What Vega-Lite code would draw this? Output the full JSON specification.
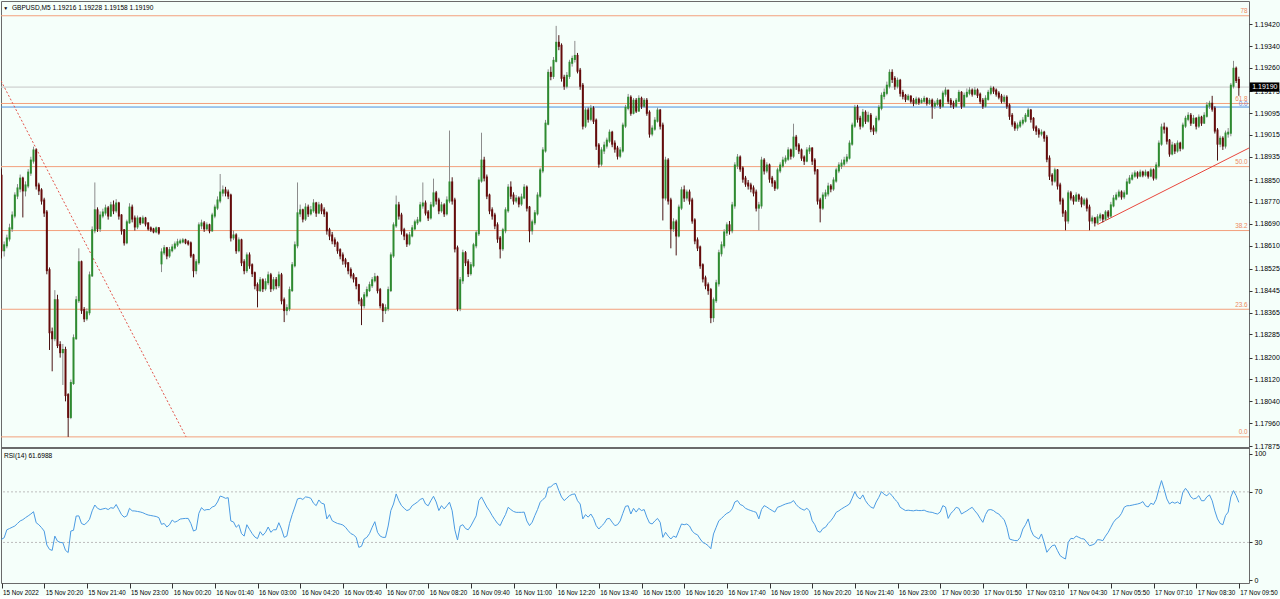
{
"$schema":"https://vega.github.io/schema/vega-lite/v6.json",
"padding":0,
"background":"#f5fffa",
"spacing":0,
"bounds":"flush",
"config":{"view":{"stroke":"#6a6a6a","fill":"#f5fffa"},"font":"Liberation Sans","axis":{"labelOverlap":false,"labelBound":false,"labelFlush":false}},
"datasets":{
"bars":[
{"i":0,"o":1.18866,"h":1.18892,"l":1.18563,"c":1.18593,"r":32.5},
{"i":1,"o":1.18593,"h":1.18625,"l":1.18570,"c":1.18611,"r":33.7},
{"i":2,"o":1.18611,"h":1.18650,"l":1.18600,"c":1.18636,"r":40},
{"i":3,"o":1.18636,"h":1.18690,"l":1.18625,"c":1.18673,"r":41},
{"i":4,"o":1.18673,"h":1.18735,"l":1.18660,"c":1.18720,"r":42},
{"i":5,"o":1.18720,"h":1.18805,"l":1.18710,"c":1.18793,"r":43},
{"i":6,"o":1.18793,"h":1.18835,"l":1.18780,"c":1.18819,"r":45},
{"i":7,"o":1.18819,"h":1.18870,"l":1.18805,"c":1.18855,"r":47},
{"i":8,"o":1.18855,"h":1.18862,"l":1.18713,"c":1.18812,"r":48},
{"i":9,"o":1.18812,"h":1.18845,"l":1.18790,"c":1.18830,"r":49.6},
{"i":10,"o":1.18830,"h":1.18890,"l":1.18820,"c":1.18877,"r":51},
{"i":11,"o":1.18877,"h":1.18935,"l":1.18865,"c":1.18921,"r":52.5},
{"i":12,"o":1.18921,"h":1.18972,"l":1.18910,"c":1.18958,"r":54.3},
{"i":13,"o":1.18958,"h":1.18965,"l":1.18815,"c":1.18830,"r":45.6},
{"i":14,"o":1.18830,"h":1.18840,"l":1.18795,"c":1.18812,"r":44},
{"i":15,"o":1.18812,"h":1.18820,"l":1.18760,"c":1.18775,"r":41.7},
{"i":16,"o":1.18775,"h":1.18785,"l":1.18715,"c":1.18731,"r":39},
{"i":17,"o":1.18731,"h":1.18740,"l":1.18505,"c":1.18520,"r":28},
{"i":18,"o":1.18520,"h":1.18530,"l":1.18228,"c":1.18293,"r":24.5},
{"i":19,"o":1.18293,"h":1.18310,"l":1.18150,"c":1.18271,"r":23.7},
{"i":20,"o":1.18271,"h":1.18447,"l":1.18260,"c":1.18410,"r":35},
{"i":21,"o":1.18410,"h":1.18430,"l":1.18235,"c":1.18246,"r":31},
{"i":22,"o":1.18246,"h":1.18260,"l":1.18200,"c":1.18220,"r":30},
{"i":23,"o":1.18220,"h":1.18250,"l":1.18100,"c":1.18228,"r":29.8},
{"i":24,"o":1.18228,"h":1.18240,"l":1.18040,"c":1.18063,"r":23.7},
{"i":25,"o":1.18063,"h":1.18070,"l":1.17910,"c":1.17983,"r":22},
{"i":26,"o":1.17983,"h":1.18120,"l":1.17975,"c":1.18107,"r":39},
{"i":27,"o":1.18107,"h":1.18285,"l":1.18100,"c":1.18271,"r":39.6},
{"i":28,"o":1.18271,"h":1.18425,"l":1.18265,"c":1.18410,"r":50.9},
{"i":29,"o":1.18410,"h":1.18600,"l":1.18400,"c":1.18549,"r":51},
{"i":30,"o":1.18549,"h":1.18555,"l":1.18360,"c":1.18374,"r":45},
{"i":31,"o":1.18374,"h":1.18385,"l":1.18330,"c":1.18344,"r":44},
{"i":32,"o":1.18344,"h":1.18380,"l":1.18335,"c":1.18366,"r":45.6},
{"i":33,"o":1.18366,"h":1.18515,"l":1.18355,"c":1.18501,"r":48.3},
{"i":34,"o":1.18501,"h":1.18680,"l":1.18495,"c":1.18666,"r":55},
{"i":35,"o":1.18666,"h":1.18841,"l":1.18655,"c":1.18739,"r":59.6},
{"i":36,"o":1.18739,"h":1.18750,"l":1.18660,"c":1.18673,"r":57},
{"i":37,"o":1.18673,"h":1.18735,"l":1.18660,"c":1.18720,"r":56},
{"i":38,"o":1.18720,"h":1.18745,"l":1.18710,"c":1.18731,"r":56.5},
{"i":39,"o":1.18731,"h":1.18760,"l":1.18720,"c":1.18746,"r":57},
{"i":40,"o":1.18746,"h":1.18755,"l":1.18705,"c":1.18720,"r":56},
{"i":41,"o":1.18720,"h":1.18770,"l":1.18715,"c":1.18757,"r":57.5},
{"i":42,"o":1.18757,"h":1.18775,"l":1.18725,"c":1.18739,"r":57},
{"i":43,"o":1.18739,"h":1.18780,"l":1.18730,"c":1.18764,"r":60},
{"i":44,"o":1.18764,"h":1.18770,"l":1.18705,"c":1.18720,"r":56},
{"i":45,"o":1.18720,"h":1.18725,"l":1.18650,"c":1.18666,"r":52},
{"i":46,"o":1.18666,"h":1.18670,"l":1.18610,"c":1.18622,"r":50},
{"i":47,"o":1.18622,"h":1.18705,"l":1.18615,"c":1.18695,"r":51},
{"i":48,"o":1.18695,"h":1.18765,"l":1.18690,"c":1.18749,"r":57},
{"i":49,"o":1.18749,"h":1.18760,"l":1.18695,"c":1.18709,"r":55},
{"i":50,"o":1.18709,"h":1.18720,"l":1.18665,"c":1.18680,"r":54.9},
{"i":51,"o":1.18680,"h":1.18720,"l":1.18670,"c":1.18709,"r":54.5},
{"i":52,"o":1.18709,"h":1.18715,"l":1.18685,"c":1.18695,"r":54.1},
{"i":53,"o":1.18695,"h":1.18720,"l":1.18690,"c":1.18709,"r":53.5},
{"i":54,"o":1.18709,"h":1.18715,"l":1.18680,"c":1.18691,"r":52.5},
{"i":55,"o":1.18691,"h":1.18695,"l":1.18665,"c":1.18673,"r":51.7},
{"i":56,"o":1.18673,"h":1.18680,"l":1.18660,"c":1.18669,"r":51.3},
{"i":57,"o":1.18669,"h":1.18675,"l":1.18655,"c":1.18662,"r":50.9},
{"i":58,"o":1.18662,"h":1.18680,"l":1.18655,"c":1.18673,"r":50.5},
{"i":59,"o":1.18673,"h":1.18678,"l":1.18650,"c":1.18658,"r":49.6},
{"i":60,"o":1.18545,"h":1.18600,"l":1.18513,"c":1.18585,"r":44.3},
{"i":61,"o":1.18585,"h":1.18612,"l":1.18575,"c":1.18600,"r":45},
{"i":62,"o":1.18600,"h":1.18605,"l":1.18560,"c":1.18574,"r":42.2},
{"i":63,"o":1.18574,"h":1.18605,"l":1.18565,"c":1.18593,"r":44},
{"i":64,"o":1.18593,"h":1.18615,"l":1.18585,"c":1.18603,"r":47.7},
{"i":65,"o":1.18603,"h":1.18625,"l":1.18595,"c":1.18614,"r":46},
{"i":66,"o":1.18614,"h":1.18635,"l":1.18605,"c":1.18622,"r":47},
{"i":67,"o":1.18622,"h":1.18635,"l":1.18615,"c":1.18625,"r":48.5},
{"i":68,"o":1.18625,"h":1.18638,"l":1.18618,"c":1.18629,"r":48.8},
{"i":69,"o":1.18629,"h":1.18635,"l":1.18615,"c":1.18622,"r":49},
{"i":70,"o":1.18622,"h":1.18630,"l":1.18610,"c":1.18618,"r":49},
{"i":71,"o":1.18618,"h":1.18625,"l":1.18565,"c":1.18574,"r":45},
{"i":72,"o":1.18574,"h":1.18580,"l":1.18494,"c":1.18520,"r":39},
{"i":73,"o":1.18520,"h":1.18560,"l":1.18505,"c":1.18549,"r":40},
{"i":74,"o":1.18549,"h":1.18695,"l":1.18540,"c":1.18684,"r":53},
{"i":75,"o":1.18684,"h":1.18705,"l":1.18670,"c":1.18691,"r":57.5},
{"i":76,"o":1.18691,"h":1.18700,"l":1.18660,"c":1.18673,"r":55.4},
{"i":77,"o":1.18673,"h":1.18695,"l":1.18665,"c":1.18684,"r":56},
{"i":78,"o":1.18684,"h":1.18690,"l":1.18655,"c":1.18666,"r":56},
{"i":79,"o":1.18666,"h":1.18730,"l":1.18660,"c":1.18720,"r":58},
{"i":80,"o":1.18720,"h":1.18760,"l":1.18710,"c":1.18749,"r":58.8},
{"i":81,"o":1.18749,"h":1.18790,"l":1.18740,"c":1.18775,"r":62},
{"i":82,"o":1.18775,"h":1.18872,"l":1.18765,"c":1.18804,"r":66.7},
{"i":83,"o":1.18804,"h":1.18830,"l":1.18790,"c":1.18812,"r":66},
{"i":84,"o":1.18812,"h":1.18825,"l":1.18790,"c":1.18804,"r":64.9},
{"i":85,"o":1.18804,"h":1.18815,"l":1.18780,"c":1.18793,"r":65.4},
{"i":86,"o":1.18793,"h":1.18800,"l":1.18625,"c":1.18640,"r":47},
{"i":87,"o":1.18640,"h":1.18665,"l":1.18630,"c":1.18647,"r":46.2},
{"i":88,"o":1.18647,"h":1.18655,"l":1.18580,"c":1.18593,"r":42},
{"i":89,"o":1.18593,"h":1.18640,"l":1.18585,"c":1.18629,"r":44},
{"i":90,"o":1.18629,"h":1.18635,"l":1.18535,"c":1.18549,"r":37},
{"i":91,"o":1.18549,"h":1.18560,"l":1.18505,"c":1.18520,"r":35},
{"i":92,"o":1.18520,"h":1.18585,"l":1.18510,"c":1.18574,"r":44},
{"i":93,"o":1.18574,"h":1.18585,"l":1.18525,"c":1.18538,"r":40.4},
{"i":94,"o":1.18538,"h":1.18545,"l":1.18495,"c":1.18509,"r":37},
{"i":95,"o":1.18509,"h":1.18515,"l":1.18450,"c":1.18465,"r":34.3},
{"i":96,"o":1.18465,"h":1.18475,"l":1.18384,"c":1.18447,"r":33},
{"i":97,"o":1.18447,"h":1.18495,"l":1.18440,"c":1.18483,"r":38.5},
{"i":98,"o":1.18483,"h":1.18490,"l":1.18440,"c":1.18454,"r":35.6},
{"i":99,"o":1.18454,"h":1.18490,"l":1.18445,"c":1.18476,"r":38},
{"i":100,"o":1.18476,"h":1.18515,"l":1.18465,"c":1.18501,"r":42.2},
{"i":101,"o":1.18501,"h":1.18510,"l":1.18440,"c":1.18454,"r":38},
{"i":102,"o":1.18454,"h":1.18495,"l":1.18445,"c":1.18483,"r":40},
{"i":103,"o":1.18483,"h":1.18495,"l":1.18450,"c":1.18465,"r":40},
{"i":104,"o":1.18465,"h":1.18515,"l":1.18455,"c":1.18501,"r":45.6},
{"i":105,"o":1.18501,"h":1.18510,"l":1.18395,"c":1.18410,"r":40.6},
{"i":106,"o":1.18410,"h":1.18420,"l":1.18330,"c":1.18374,"r":34},
{"i":107,"o":1.18374,"h":1.18395,"l":1.18355,"c":1.18381,"r":35},
{"i":108,"o":1.18381,"h":1.18460,"l":1.18370,"c":1.18447,"r":45},
{"i":109,"o":1.18447,"h":1.18550,"l":1.18440,"c":1.18538,"r":52},
{"i":110,"o":1.18538,"h":1.18625,"l":1.18530,"c":1.18611,"r":58},
{"i":111,"o":1.18611,"h":1.18841,"l":1.18600,"c":1.18728,"r":64.4},
{"i":112,"o":1.18728,"h":1.18760,"l":1.18715,"c":1.18739,"r":65},
{"i":113,"o":1.18739,"h":1.18745,"l":1.18695,"c":1.18709,"r":64},
{"i":114,"o":1.18709,"h":1.18765,"l":1.18700,"c":1.18749,"r":66},
{"i":115,"o":1.18749,"h":1.18760,"l":1.18715,"c":1.18728,"r":65.7},
{"i":116,"o":1.18728,"h":1.18755,"l":1.18720,"c":1.18739,"r":64.9},
{"i":117,"o":1.18739,"h":1.18780,"l":1.18730,"c":1.18764,"r":61},
{"i":118,"o":1.18764,"h":1.18770,"l":1.18715,"c":1.18731,"r":59.1},
{"i":119,"o":1.18731,"h":1.18770,"l":1.18725,"c":1.18757,"r":63.6},
{"i":120,"o":1.18757,"h":1.18765,"l":1.18725,"c":1.18739,"r":61},
{"i":121,"o":1.18739,"h":1.18750,"l":1.18715,"c":1.18728,"r":60.4},
{"i":122,"o":1.18728,"h":1.18735,"l":1.18650,"c":1.18666,"r":48.6},
{"i":123,"o":1.18666,"h":1.18675,"l":1.18630,"c":1.18647,"r":52},
{"i":124,"o":1.18647,"h":1.18660,"l":1.18615,"c":1.18629,"r":47.2},
{"i":125,"o":1.18629,"h":1.18640,"l":1.18605,"c":1.18618,"r":46},
{"i":126,"o":1.18618,"h":1.18625,"l":1.18580,"c":1.18593,"r":45},
{"i":127,"o":1.18593,"h":1.18600,"l":1.18560,"c":1.18574,"r":44.5},
{"i":128,"o":1.18574,"h":1.18585,"l":1.18540,"c":1.18556,"r":43.8},
{"i":129,"o":1.18556,"h":1.18565,"l":1.18530,"c":1.18545,"r":42},
{"i":130,"o":1.18545,"h":1.18550,"l":1.18505,"c":1.18520,"r":39.3},
{"i":131,"o":1.18520,"h":1.18530,"l":1.18490,"c":1.18501,"r":37},
{"i":132,"o":1.18501,"h":1.18510,"l":1.18475,"c":1.18490,"r":36},
{"i":133,"o":1.18490,"h":1.18495,"l":1.18450,"c":1.18465,"r":34},
{"i":134,"o":1.18465,"h":1.18470,"l":1.18395,"c":1.18410,"r":26.1},
{"i":135,"o":1.18410,"h":1.18420,"l":1.18319,"c":1.18392,"r":27},
{"i":136,"o":1.18392,"h":1.18440,"l":1.18380,"c":1.18428,"r":32.7},
{"i":137,"o":1.18428,"h":1.18460,"l":1.18420,"c":1.18447,"r":34},
{"i":138,"o":1.18447,"h":1.18478,"l":1.18440,"c":1.18465,"r":37},
{"i":139,"o":1.18465,"h":1.18495,"l":1.18455,"c":1.18483,"r":42},
{"i":140,"o":1.18483,"h":1.18510,"l":1.18475,"c":1.18494,"r":46.4},
{"i":141,"o":1.18494,"h":1.18500,"l":1.18435,"c":1.18447,"r":38},
{"i":142,"o":1.18447,"h":1.18455,"l":1.18380,"c":1.18392,"r":35},
{"i":143,"o":1.18392,"h":1.18400,"l":1.18330,"c":1.18374,"r":34},
{"i":144,"o":1.18374,"h":1.18395,"l":1.18360,"c":1.18381,"r":34},
{"i":145,"o":1.18381,"h":1.18460,"l":1.18370,"c":1.18447,"r":43},
{"i":146,"o":1.18447,"h":1.18585,"l":1.18440,"c":1.18574,"r":55.2},
{"i":147,"o":1.18574,"h":1.18695,"l":1.18565,"c":1.18684,"r":60.4},
{"i":148,"o":1.18684,"h":1.18793,"l":1.18675,"c":1.18757,"r":68.4},
{"i":149,"o":1.18757,"h":1.18770,"l":1.18705,"c":1.18720,"r":63},
{"i":150,"o":1.18720,"h":1.18730,"l":1.18650,"c":1.18666,"r":59.1},
{"i":151,"o":1.18666,"h":1.18675,"l":1.18630,"c":1.18647,"r":57},
{"i":152,"o":1.18647,"h":1.18655,"l":1.18605,"c":1.18618,"r":55.2},
{"i":153,"o":1.18618,"h":1.18660,"l":1.18610,"c":1.18647,"r":56},
{"i":154,"o":1.18647,"h":1.18685,"l":1.18640,"c":1.18673,"r":59.1},
{"i":155,"o":1.18673,"h":1.18705,"l":1.18665,"c":1.18695,"r":60.5},
{"i":156,"o":1.18695,"h":1.18715,"l":1.18685,"c":1.18702,"r":62},
{"i":157,"o":1.18702,"h":1.18770,"l":1.18695,"c":1.18757,"r":64},
{"i":158,"o":1.18757,"h":1.18841,"l":1.18745,"c":1.18764,"r":64.9},
{"i":159,"o":1.18764,"h":1.18775,"l":1.18720,"c":1.18731,"r":60.4},
{"i":160,"o":1.18731,"h":1.18740,"l":1.18700,"c":1.18713,"r":59},
{"i":161,"o":1.18713,"h":1.18770,"l":1.18705,"c":1.18757,"r":63},
{"i":162,"o":1.18757,"h":1.18855,"l":1.18750,"c":1.18801,"r":66.5},
{"i":163,"o":1.18801,"h":1.18810,"l":1.18760,"c":1.18775,"r":62},
{"i":164,"o":1.18775,"h":1.18785,"l":1.18725,"c":1.18739,"r":55.2},
{"i":165,"o":1.18739,"h":1.18770,"l":1.18730,"c":1.18757,"r":59.1},
{"i":166,"o":1.18757,"h":1.18765,"l":1.18715,"c":1.18728,"r":56.5},
{"i":167,"o":1.18728,"h":1.18790,"l":1.18720,"c":1.18775,"r":59},
{"i":168,"o":1.18775,"h":1.19031,"l":1.18765,"c":1.18841,"r":61.8},
{"i":169,"o":1.18841,"h":1.18860,"l":1.18760,"c":1.18775,"r":55},
{"i":170,"o":1.18775,"h":1.18785,"l":1.18585,"c":1.18600,"r":40},
{"i":171,"o":1.18600,"h":1.18610,"l":1.18370,"c":1.18381,"r":31.9},
{"i":172,"o":1.18381,"h":1.18495,"l":1.18370,"c":1.18483,"r":43},
{"i":173,"o":1.18483,"h":1.18595,"l":1.18470,"c":1.18582,"r":44},
{"i":174,"o":1.18582,"h":1.18590,"l":1.18535,"c":1.18549,"r":41},
{"i":175,"o":1.18549,"h":1.18560,"l":1.18495,"c":1.18509,"r":40},
{"i":176,"o":1.18509,"h":1.18550,"l":1.18500,"c":1.18538,"r":43},
{"i":177,"o":1.18538,"h":1.18620,"l":1.18530,"c":1.18611,"r":47},
{"i":178,"o":1.18611,"h":1.18665,"l":1.18600,"c":1.18655,"r":51},
{"i":179,"o":1.18655,"h":1.18860,"l":1.18645,"c":1.18848,"r":63.1},
{"i":180,"o":1.18848,"h":1.19023,"l":1.18840,"c":1.18921,"r":66},
{"i":181,"o":1.18921,"h":1.18935,"l":1.18845,"c":1.18859,"r":62},
{"i":182,"o":1.18859,"h":1.18870,"l":1.18780,"c":1.18793,"r":58},
{"i":183,"o":1.18793,"h":1.18800,"l":1.18725,"c":1.18739,"r":55},
{"i":184,"o":1.18739,"h":1.18750,"l":1.18705,"c":1.18720,"r":51.2},
{"i":185,"o":1.18720,"h":1.18730,"l":1.18670,"c":1.18684,"r":48},
{"i":186,"o":1.18684,"h":1.18695,"l":1.18620,"c":1.18636,"r":45},
{"i":187,"o":1.18636,"h":1.18645,"l":1.18563,"c":1.18600,"r":43.3},
{"i":188,"o":1.18600,"h":1.18675,"l":1.18590,"c":1.18666,"r":48},
{"i":189,"o":1.18666,"h":1.18750,"l":1.18655,"c":1.18739,"r":52},
{"i":190,"o":1.18739,"h":1.18835,"l":1.18730,"c":1.18822,"r":57.8},
{"i":191,"o":1.18822,"h":1.18845,"l":1.18780,"c":1.18793,"r":56},
{"i":192,"o":1.18793,"h":1.18805,"l":1.18760,"c":1.18775,"r":54.5},
{"i":193,"o":1.18775,"h":1.18795,"l":1.18765,"c":1.18782,"r":53.8},
{"i":194,"o":1.18782,"h":1.18790,"l":1.18750,"c":1.18764,"r":53.8},
{"i":195,"o":1.18764,"h":1.18800,"l":1.18755,"c":1.18786,"r":53.8},
{"i":196,"o":1.18786,"h":1.18835,"l":1.18780,"c":1.18822,"r":54},
{"i":197,"o":1.18822,"h":1.18830,"l":1.18735,"c":1.18749,"r":47},
{"i":198,"o":1.18749,"h":1.18755,"l":1.18622,"c":1.18666,"r":43.3},
{"i":199,"o":1.18666,"h":1.18705,"l":1.18650,"c":1.18695,"r":46},
{"i":200,"o":1.18695,"h":1.18740,"l":1.18685,"c":1.18728,"r":51.2},
{"i":201,"o":1.18728,"h":1.18805,"l":1.18720,"c":1.18793,"r":56},
{"i":202,"o":1.18793,"h":1.18895,"l":1.18785,"c":1.18885,"r":61.8},
{"i":203,"o":1.18885,"h":1.18970,"l":1.18875,"c":1.18958,"r":64},
{"i":204,"o":1.18958,"h":1.19070,"l":1.18950,"c":1.19056,"r":65.7},
{"i":205,"o":1.19056,"h":1.19255,"l":1.19050,"c":1.19242,"r":73.6},
{"i":206,"o":1.19242,"h":1.19265,"l":1.19215,"c":1.19231,"r":74},
{"i":207,"o":1.19231,"h":1.19300,"l":1.19220,"c":1.19286,"r":76},
{"i":208,"o":1.19286,"h":1.19414,"l":1.19280,"c":1.19352,"r":76.8},
{"i":209,"o":1.19352,"h":1.19380,"l":1.19325,"c":1.19341,"r":71},
{"i":210,"o":1.19341,"h":1.19350,"l":1.19210,"c":1.19224,"r":66},
{"i":211,"o":1.19224,"h":1.19235,"l":1.19180,"c":1.19195,"r":63.1},
{"i":212,"o":1.19195,"h":1.19245,"l":1.19185,"c":1.19231,"r":65},
{"i":213,"o":1.19231,"h":1.19290,"l":1.19220,"c":1.19279,"r":67},
{"i":214,"o":1.19279,"h":1.19305,"l":1.19265,"c":1.19293,"r":68},
{"i":215,"o":1.19293,"h":1.19359,"l":1.19280,"c":1.19304,"r":68.4},
{"i":216,"o":1.19304,"h":1.19315,"l":1.19240,"c":1.19250,"r":63},
{"i":217,"o":1.19250,"h":1.19260,"l":1.19180,"c":1.19195,"r":60.4},
{"i":218,"o":1.19195,"h":1.19205,"l":1.19035,"c":1.19049,"r":48.6},
{"i":219,"o":1.19049,"h":1.19115,"l":1.19040,"c":1.19104,"r":52},
{"i":220,"o":1.19104,"h":1.19115,"l":1.19060,"c":1.19074,"r":50},
{"i":221,"o":1.19074,"h":1.19125,"l":1.19065,"c":1.19111,"r":52.5},
{"i":222,"o":1.19111,"h":1.19120,"l":1.19055,"c":1.19067,"r":49},
{"i":223,"o":1.19067,"h":1.19075,"l":1.18960,"c":1.18976,"r":43.3},
{"i":224,"o":1.18976,"h":1.18985,"l":1.18895,"c":1.18910,"r":40.6},
{"i":225,"o":1.18910,"h":1.18970,"l":1.18900,"c":1.18958,"r":43},
{"i":226,"o":1.18958,"h":1.18990,"l":1.18945,"c":1.18976,"r":45},
{"i":227,"o":1.18976,"h":1.19005,"l":1.18965,"c":1.18994,"r":48.6},
{"i":228,"o":1.18994,"h":1.19035,"l":1.18985,"c":1.19023,"r":49},
{"i":229,"o":1.19023,"h":1.19030,"l":1.18970,"c":1.18983,"r":46},
{"i":230,"o":1.18983,"h":1.18995,"l":1.18950,"c":1.18965,"r":43.3},
{"i":231,"o":1.18965,"h":1.18975,"l":1.18925,"c":1.18939,"r":44},
{"i":232,"o":1.18939,"h":1.18970,"l":1.18930,"c":1.18958,"r":47},
{"i":233,"o":1.18958,"h":1.19060,"l":1.18950,"c":1.19049,"r":53},
{"i":234,"o":1.19049,"h":1.19125,"l":1.19040,"c":1.19114,"r":58.6},
{"i":235,"o":1.19114,"h":1.19165,"l":1.19105,"c":1.19151,"r":59},
{"i":236,"o":1.19151,"h":1.19160,"l":1.19085,"c":1.19096,"r":52.5},
{"i":237,"o":1.19096,"h":1.19150,"l":1.19090,"c":1.19140,"r":57},
{"i":238,"o":1.19140,"h":1.19150,"l":1.19095,"c":1.19104,"r":54},
{"i":239,"o":1.19104,"h":1.19160,"l":1.19100,"c":1.19147,"r":57},
{"i":240,"o":1.19147,"h":1.19155,"l":1.19110,"c":1.19122,"r":55.2},
{"i":241,"o":1.19122,"h":1.19150,"l":1.19115,"c":1.19140,"r":56},
{"i":242,"o":1.19140,"h":1.19150,"l":1.19085,"c":1.19096,"r":50},
{"i":243,"o":1.19096,"h":1.19105,"l":1.19005,"c":1.19020,"r":45.4},
{"i":244,"o":1.19020,"h":1.19050,"l":1.19010,"c":1.19038,"r":44.6},
{"i":245,"o":1.19038,"h":1.19080,"l":1.19030,"c":1.19067,"r":47},
{"i":246,"o":1.19067,"h":1.19115,"l":1.19060,"c":1.19104,"r":49},
{"i":247,"o":1.19104,"h":1.19110,"l":1.19035,"c":1.19049,"r":45.9},
{"i":248,"o":1.19049,"h":1.19060,"l":1.18702,"c":1.18786,"r":34},
{"i":249,"o":1.18786,"h":1.18935,"l":1.18775,"c":1.18921,"r":38},
{"i":250,"o":1.18921,"h":1.18930,"l":1.18760,"c":1.18775,"r":35},
{"i":251,"o":1.18775,"h":1.18785,"l":1.18600,"c":1.18673,"r":32.7},
{"i":252,"o":1.18673,"h":1.18710,"l":1.18660,"c":1.18695,"r":35},
{"i":253,"o":1.18695,"h":1.18705,"l":1.18574,"c":1.18647,"r":34},
{"i":254,"o":1.18647,"h":1.18760,"l":1.18640,"c":1.18749,"r":39.3},
{"i":255,"o":1.18749,"h":1.18825,"l":1.18740,"c":1.18812,"r":44.6},
{"i":256,"o":1.18812,"h":1.18830,"l":1.18770,"c":1.18786,"r":44},
{"i":257,"o":1.18786,"h":1.18815,"l":1.18775,"c":1.18804,"r":44.6},
{"i":258,"o":1.18804,"h":1.18815,"l":1.18760,"c":1.18775,"r":43},
{"i":259,"o":1.18775,"h":1.18785,"l":1.18690,"c":1.18702,"r":39},
{"i":260,"o":1.18702,"h":1.18710,"l":1.18615,"c":1.18629,"r":37},
{"i":261,"o":1.18629,"h":1.18640,"l":1.18590,"c":1.18603,"r":36},
{"i":262,"o":1.18603,"h":1.18610,"l":1.18525,"c":1.18538,"r":32.7},
{"i":263,"o":1.18538,"h":1.18545,"l":1.18475,"c":1.18490,"r":30},
{"i":264,"o":1.18490,"h":1.18500,"l":1.18450,"c":1.18465,"r":29},
{"i":265,"o":1.18465,"h":1.18475,"l":1.18430,"c":1.18447,"r":27.4},
{"i":266,"o":1.18447,"h":1.18455,"l":1.18326,"c":1.18348,"r":25},
{"i":267,"o":1.18348,"h":1.18420,"l":1.18330,"c":1.18410,"r":36.7},
{"i":268,"o":1.18410,"h":1.18485,"l":1.18400,"c":1.18472,"r":42},
{"i":269,"o":1.18472,"h":1.18595,"l":1.18460,"c":1.18582,"r":47.2},
{"i":270,"o":1.18582,"h":1.18625,"l":1.18570,"c":1.18611,"r":49},
{"i":271,"o":1.18611,"h":1.18670,"l":1.18600,"c":1.18658,"r":51.2},
{"i":272,"o":1.18658,"h":1.18695,"l":1.18645,"c":1.18684,"r":53},
{"i":273,"o":1.18684,"h":1.18700,"l":1.18650,"c":1.18666,"r":54},
{"i":274,"o":1.18666,"h":1.18770,"l":1.18655,"c":1.18757,"r":56.5},
{"i":275,"o":1.18757,"h":1.18915,"l":1.18745,"c":1.18903,"r":62},
{"i":276,"o":1.18903,"h":1.18945,"l":1.18890,"c":1.18932,"r":63.1},
{"i":277,"o":1.18932,"h":1.18940,"l":1.18880,"c":1.18892,"r":60},
{"i":278,"o":1.18892,"h":1.18900,"l":1.18840,"c":1.18855,"r":59.1},
{"i":279,"o":1.18855,"h":1.18865,"l":1.18825,"c":1.18837,"r":57},
{"i":280,"o":1.18837,"h":1.18850,"l":1.18815,"c":1.18830,"r":56},
{"i":281,"o":1.18830,"h":1.18840,"l":1.18805,"c":1.18819,"r":55.2},
{"i":282,"o":1.18819,"h":1.18830,"l":1.18790,"c":1.18804,"r":54.5},
{"i":283,"o":1.18804,"h":1.18815,"l":1.18735,"c":1.18749,"r":53.8},
{"i":284,"o":1.18749,"h":1.18770,"l":1.18666,"c":1.18757,"r":48.6},
{"i":285,"o":1.18757,"h":1.18935,"l":1.18745,"c":1.18921,"r":56},
{"i":286,"o":1.18921,"h":1.18930,"l":1.18870,"c":1.18885,"r":59.1},
{"i":287,"o":1.18885,"h":1.18915,"l":1.18875,"c":1.18903,"r":58},
{"i":288,"o":1.18903,"h":1.18910,"l":1.18840,"c":1.18855,"r":56.5},
{"i":289,"o":1.18855,"h":1.18865,"l":1.18825,"c":1.18841,"r":55.2},
{"i":290,"o":1.18841,"h":1.18850,"l":1.18810,"c":1.18822,"r":54},
{"i":291,"o":1.18822,"h":1.18895,"l":1.18815,"c":1.18885,"r":57.8},
{"i":292,"o":1.18885,"h":1.18915,"l":1.18875,"c":1.18903,"r":58.5},
{"i":293,"o":1.18903,"h":1.18935,"l":1.18895,"c":1.18921,"r":59.5},
{"i":294,"o":1.18921,"h":1.18940,"l":1.18910,"c":1.18928,"r":60.4},
{"i":295,"o":1.18928,"h":1.18970,"l":1.18920,"c":1.18958,"r":61},
{"i":296,"o":1.18958,"h":1.18965,"l":1.18925,"c":1.18939,"r":61.5},
{"i":297,"o":1.18939,"h":1.19056,"l":1.18930,"c":1.19005,"r":63.1},
{"i":298,"o":1.19005,"h":1.19015,"l":1.18960,"c":1.18976,"r":60},
{"i":299,"o":1.18976,"h":1.18985,"l":1.18945,"c":1.18958,"r":57.8},
{"i":300,"o":1.18958,"h":1.18965,"l":1.18920,"c":1.18932,"r":56.5},
{"i":301,"o":1.18932,"h":1.18940,"l":1.18905,"c":1.18921,"r":55.5},
{"i":302,"o":1.18921,"h":1.18970,"l":1.18915,"c":1.18958,"r":57},
{"i":303,"o":1.18958,"h":1.18978,"l":1.18945,"c":1.18965,"r":55},
{"i":304,"o":1.18965,"h":1.18970,"l":1.18905,"c":1.18921,"r":47.2},
{"i":305,"o":1.18921,"h":1.18930,"l":1.18870,"c":1.18885,"r":44},
{"i":306,"o":1.18885,"h":1.18890,"l":1.18760,"c":1.18775,"r":39},
{"i":307,"o":1.18775,"h":1.18785,"l":1.18695,"c":1.18749,"r":38},
{"i":308,"o":1.18749,"h":1.18805,"l":1.18740,"c":1.18793,"r":41},
{"i":309,"o":1.18793,"h":1.18815,"l":1.18780,"c":1.18801,"r":42},
{"i":310,"o":1.18801,"h":1.18840,"l":1.18790,"c":1.18826,"r":45},
{"i":311,"o":1.18826,"h":1.18835,"l":1.18805,"c":1.18819,"r":47.2},
{"i":312,"o":1.18819,"h":1.18860,"l":1.18810,"c":1.18848,"r":50},
{"i":313,"o":1.18848,"h":1.18895,"l":1.18840,"c":1.18885,"r":53.8},
{"i":314,"o":1.18885,"h":1.18915,"l":1.18875,"c":1.18903,"r":55},
{"i":315,"o":1.18903,"h":1.18925,"l":1.18890,"c":1.18910,"r":56.5},
{"i":316,"o":1.18910,"h":1.18935,"l":1.18900,"c":1.18921,"r":57.8},
{"i":317,"o":1.18921,"h":1.18945,"l":1.18910,"c":1.18932,"r":59},
{"i":318,"o":1.18932,"h":1.18995,"l":1.18925,"c":1.18983,"r":60.4},
{"i":319,"o":1.18983,"h":1.19060,"l":1.18975,"c":1.19049,"r":65},
{"i":320,"o":1.19049,"h":1.19125,"l":1.19040,"c":1.19114,"r":70.2},
{"i":321,"o":1.19114,"h":1.19125,"l":1.19060,"c":1.19074,"r":66},
{"i":322,"o":1.19074,"h":1.19085,"l":1.19035,"c":1.19049,"r":64.4},
{"i":323,"o":1.19049,"h":1.19110,"l":1.19040,"c":1.19096,"r":67.6},
{"i":324,"o":1.19096,"h":1.19105,"l":1.19055,"c":1.19067,"r":63},
{"i":325,"o":1.19067,"h":1.19100,"l":1.19060,"c":1.19085,"r":60},
{"i":326,"o":1.19085,"h":1.19095,"l":1.19025,"c":1.19038,"r":58},
{"i":327,"o":1.19038,"h":1.19050,"l":1.19015,"c":1.19031,"r":57},
{"i":328,"o":1.19031,"h":1.19085,"l":1.19020,"c":1.19074,"r":62},
{"i":329,"o":1.19074,"h":1.19125,"l":1.19065,"c":1.19114,"r":65.7},
{"i":330,"o":1.19114,"h":1.19170,"l":1.19105,"c":1.19158,"r":70.2},
{"i":331,"o":1.19158,"h":1.19185,"l":1.19145,"c":1.19169,"r":68},
{"i":332,"o":1.19169,"h":1.19210,"l":1.19160,"c":1.19195,"r":67},
{"i":333,"o":1.19195,"h":1.19255,"l":1.19185,"c":1.19242,"r":69},
{"i":334,"o":1.19242,"h":1.19255,"l":1.19205,"c":1.19220,"r":67},
{"i":335,"o":1.19220,"h":1.19230,"l":1.19180,"c":1.19195,"r":64},
{"i":336,"o":1.19195,"h":1.19225,"l":1.19185,"c":1.19213,"r":62},
{"i":337,"o":1.19213,"h":1.19220,"l":1.19155,"c":1.19169,"r":57.8},
{"i":338,"o":1.19169,"h":1.19180,"l":1.19145,"c":1.19158,"r":56.5},
{"i":339,"o":1.19158,"h":1.19165,"l":1.19135,"c":1.19147,"r":55.2},
{"i":340,"o":1.19147,"h":1.19165,"l":1.19140,"c":1.19155,"r":55.5},
{"i":341,"o":1.19155,"h":1.19160,"l":1.19130,"c":1.19140,"r":55.2},
{"i":342,"o":1.19140,"h":1.19150,"l":1.19120,"c":1.19133,"r":55},
{"i":343,"o":1.19133,"h":1.19155,"l":1.19125,"c":1.19144,"r":55.5},
{"i":344,"o":1.19144,"h":1.19152,"l":1.19125,"c":1.19136,"r":55.2},
{"i":345,"o":1.19136,"h":1.19150,"l":1.19128,"c":1.19140,"r":55.2},
{"i":346,"o":1.19140,"h":1.19158,"l":1.19132,"c":1.19147,"r":55.5},
{"i":347,"o":1.19147,"h":1.19152,"l":1.19122,"c":1.19133,"r":54.5},
{"i":348,"o":1.19133,"h":1.19150,"l":1.19125,"c":1.19140,"r":54},
{"i":349,"o":1.19140,"h":1.19148,"l":1.19074,"c":1.19122,"r":53.8},
{"i":350,"o":1.19122,"h":1.19140,"l":1.19110,"c":1.19129,"r":53},
{"i":351,"o":1.19129,"h":1.19150,"l":1.19120,"c":1.19140,"r":52.5},
{"i":352,"o":1.19140,"h":1.19145,"l":1.19110,"c":1.19122,"r":54},
{"i":353,"o":1.19122,"h":1.19177,"l":1.19115,"c":1.19166,"r":59.1},
{"i":354,"o":1.19166,"h":1.19190,"l":1.19155,"c":1.19177,"r":58},
{"i":355,"o":1.19177,"h":1.19180,"l":1.19128,"c":1.19140,"r":49},
{"i":356,"o":1.19140,"h":1.19150,"l":1.19115,"c":1.19129,"r":53},
{"i":357,"o":1.19129,"h":1.19140,"l":1.19110,"c":1.19122,"r":55},
{"i":358,"o":1.19122,"h":1.19150,"l":1.19115,"c":1.19140,"r":57.8},
{"i":359,"o":1.19140,"h":1.19180,"l":1.19135,"c":1.19169,"r":57},
{"i":360,"o":1.19169,"h":1.19175,"l":1.19110,"c":1.19122,"r":52.5},
{"i":361,"o":1.19122,"h":1.19170,"l":1.19115,"c":1.19158,"r":53.8},
{"i":362,"o":1.19158,"h":1.19185,"l":1.19150,"c":1.19169,"r":55},
{"i":363,"o":1.19169,"h":1.19190,"l":1.19160,"c":1.19177,"r":56.5},
{"i":364,"o":1.19177,"h":1.19185,"l":1.19155,"c":1.19166,"r":57.8},
{"i":365,"o":1.19166,"h":1.19190,"l":1.19160,"c":1.19177,"r":55},
{"i":366,"o":1.19177,"h":1.19185,"l":1.19150,"c":1.19162,"r":52.5},
{"i":367,"o":1.19162,"h":1.19170,"l":1.19128,"c":1.19140,"r":49},
{"i":368,"o":1.19140,"h":1.19150,"l":1.19110,"c":1.19122,"r":45.9},
{"i":369,"o":1.19122,"h":1.19160,"l":1.19115,"c":1.19147,"r":52},
{"i":370,"o":1.19147,"h":1.19180,"l":1.19140,"c":1.19169,"r":55.7},
{"i":371,"o":1.19169,"h":1.19195,"l":1.19160,"c":1.19184,"r":56},
{"i":372,"o":1.19184,"h":1.19192,"l":1.19165,"c":1.19177,"r":55.2},
{"i":373,"o":1.19177,"h":1.19185,"l":1.19155,"c":1.19166,"r":53.5},
{"i":374,"o":1.19166,"h":1.19175,"l":1.19145,"c":1.19155,"r":52.5},
{"i":375,"o":1.19155,"h":1.19165,"l":1.19130,"c":1.19140,"r":50},
{"i":376,"o":1.19140,"h":1.19162,"l":1.19130,"c":1.19151,"r":48},
{"i":377,"o":1.19151,"h":1.19160,"l":1.19110,"c":1.19122,"r":42},
{"i":378,"o":1.19122,"h":1.19130,"l":1.19070,"c":1.19085,"r":32.7},
{"i":379,"o":1.19085,"h":1.19095,"l":1.19045,"c":1.19056,"r":32},
{"i":380,"o":1.19056,"h":1.19065,"l":1.19030,"c":1.19042,"r":31.5},
{"i":381,"o":1.19042,"h":1.19060,"l":1.19030,"c":1.19049,"r":31.4},
{"i":382,"o":1.19049,"h":1.19070,"l":1.19040,"c":1.19060,"r":34},
{"i":383,"o":1.19060,"h":1.19080,"l":1.19050,"c":1.19067,"r":40.6},
{"i":384,"o":1.19067,"h":1.19095,"l":1.19060,"c":1.19085,"r":44},
{"i":385,"o":1.19085,"h":1.19115,"l":1.19080,"c":1.19104,"r":48.6},
{"i":386,"o":1.19104,"h":1.19110,"l":1.19060,"c":1.19074,"r":40},
{"i":387,"o":1.19074,"h":1.19080,"l":1.19030,"c":1.19042,"r":35.4},
{"i":388,"o":1.19042,"h":1.19050,"l":1.19015,"c":1.19031,"r":34},
{"i":389,"o":1.19031,"h":1.19040,"l":1.19005,"c":1.19020,"r":32.7},
{"i":390,"o":1.19020,"h":1.19035,"l":1.19010,"c":1.19023,"r":36.7},
{"i":391,"o":1.19023,"h":1.19030,"l":1.18990,"c":1.19005,"r":30},
{"i":392,"o":1.19005,"h":1.19015,"l":1.18915,"c":1.18928,"r":22.2},
{"i":393,"o":1.18928,"h":1.18940,"l":1.18850,"c":1.18866,"r":25},
{"i":394,"o":1.18866,"h":1.18875,"l":1.18830,"c":1.18848,"r":27.4},
{"i":395,"o":1.18848,"h":1.18895,"l":1.18840,"c":1.18885,"r":28},
{"i":396,"o":1.18885,"h":1.18890,"l":1.18815,"c":1.18830,"r":23.5},
{"i":397,"o":1.18830,"h":1.18840,"l":1.18760,"c":1.18775,"r":19.5},
{"i":398,"o":1.18775,"h":1.18785,"l":1.18715,"c":1.18731,"r":18},
{"i":399,"o":1.18731,"h":1.18740,"l":1.18666,"c":1.18702,"r":16.9},
{"i":400,"o":1.18702,"h":1.18812,"l":1.18690,"c":1.18801,"r":30},
{"i":401,"o":1.18801,"h":1.18810,"l":1.18775,"c":1.18786,"r":33.2},
{"i":402,"o":1.18786,"h":1.18795,"l":1.18760,"c":1.18775,"r":33},
{"i":403,"o":1.18775,"h":1.18805,"l":1.18770,"c":1.18793,"r":35},
{"i":404,"o":1.18793,"h":1.18800,"l":1.18770,"c":1.18782,"r":34},
{"i":405,"o":1.18782,"h":1.18790,"l":1.18750,"c":1.18764,"r":33},
{"i":406,"o":1.18764,"h":1.18785,"l":1.18755,"c":1.18775,"r":32.7},
{"i":407,"o":1.18775,"h":1.18785,"l":1.18735,"c":1.18749,"r":30.1},
{"i":408,"o":1.18749,"h":1.18760,"l":1.18666,"c":1.18702,"r":27.4},
{"i":409,"o":1.18702,"h":1.18720,"l":1.18690,"c":1.18709,"r":28},
{"i":410,"o":1.18709,"h":1.18715,"l":1.18680,"c":1.18695,"r":29},
{"i":411,"o":1.18695,"h":1.18725,"l":1.18690,"c":1.18713,"r":32.2},
{"i":412,"o":1.18713,"h":1.18730,"l":1.18700,"c":1.18720,"r":32},
{"i":413,"o":1.18720,"h":1.18725,"l":1.18695,"c":1.18709,"r":31.4},
{"i":414,"o":1.18709,"h":1.18740,"l":1.18700,"c":1.18731,"r":35},
{"i":415,"o":1.18731,"h":1.18740,"l":1.18710,"c":1.18720,"r":38},
{"i":416,"o":1.18720,"h":1.18770,"l":1.18712,"c":1.18757,"r":42},
{"i":417,"o":1.18757,"h":1.18795,"l":1.18750,"c":1.18782,"r":46},
{"i":418,"o":1.18782,"h":1.18805,"l":1.18775,"c":1.18793,"r":48.6},
{"i":419,"o":1.18793,"h":1.18815,"l":1.18785,"c":1.18804,"r":50},
{"i":420,"o":1.18804,"h":1.18812,"l":1.18778,"c":1.18790,"r":53},
{"i":421,"o":1.18790,"h":1.18812,"l":1.18780,"c":1.18801,"r":57.8},
{"i":422,"o":1.18801,"h":1.18855,"l":1.18795,"c":1.18841,"r":59},
{"i":423,"o":1.18841,"h":1.18868,"l":1.18835,"c":1.18855,"r":59.1},
{"i":424,"o":1.18855,"h":1.18878,"l":1.18848,"c":1.18866,"r":59.5},
{"i":425,"o":1.18866,"h":1.18885,"l":1.18858,"c":1.18874,"r":60},
{"i":426,"o":1.18874,"h":1.18882,"l":1.18855,"c":1.18866,"r":60.4},
{"i":427,"o":1.18866,"h":1.18888,"l":1.18860,"c":1.18877,"r":61},
{"i":428,"o":1.18877,"h":1.18884,"l":1.18860,"c":1.18870,"r":62.3},
{"i":429,"o":1.18870,"h":1.18888,"l":1.18862,"c":1.18877,"r":59},
{"i":430,"o":1.18877,"h":1.18882,"l":1.18855,"c":1.18866,"r":58},
{"i":431,"o":1.18866,"h":1.18895,"l":1.18860,"c":1.18885,"r":61},
{"i":432,"o":1.18885,"h":1.18892,"l":1.18848,"c":1.18859,"r":60},
{"i":433,"o":1.18859,"h":1.18915,"l":1.18850,"c":1.18903,"r":64},
{"i":434,"o":1.18903,"h":1.18995,"l":1.18895,"c":1.18983,"r":72},
{"i":435,"o":1.18983,"h":1.19056,"l":1.18975,"c":1.19042,"r":78.9},
{"i":436,"o":1.19042,"h":1.19060,"l":1.19020,"c":1.19038,"r":72},
{"i":437,"o":1.19038,"h":1.19045,"l":1.18980,"c":1.18994,"r":64.4},
{"i":438,"o":1.18994,"h":1.19000,"l":1.18935,"c":1.18947,"r":60.4},
{"i":439,"o":1.18947,"h":1.18990,"l":1.18940,"c":1.18976,"r":62},
{"i":440,"o":1.18976,"h":1.18985,"l":1.18945,"c":1.18958,"r":61},
{"i":441,"o":1.18958,"h":1.18995,"l":1.18950,"c":1.18983,"r":62},
{"i":442,"o":1.18983,"h":1.18990,"l":1.18955,"c":1.18968,"r":60.4},
{"i":443,"o":1.18968,"h":1.19060,"l":1.18960,"c":1.19049,"r":69.7},
{"i":444,"o":1.19049,"h":1.19085,"l":1.19040,"c":1.19074,"r":72.8},
{"i":445,"o":1.19074,"h":1.19098,"l":1.19065,"c":1.19085,"r":70},
{"i":446,"o":1.19085,"h":1.19095,"l":1.19048,"c":1.19060,"r":66},
{"i":447,"o":1.19060,"h":1.19088,"l":1.19055,"c":1.19074,"r":64.4},
{"i":448,"o":1.19074,"h":1.19080,"l":1.19035,"c":1.19049,"r":65},
{"i":449,"o":1.19049,"h":1.19090,"l":1.19040,"c":1.19078,"r":67},
{"i":450,"o":1.19078,"h":1.19085,"l":1.19048,"c":1.19060,"r":63},
{"i":451,"o":1.19060,"h":1.19098,"l":1.19055,"c":1.19085,"r":63},
{"i":452,"o":1.19085,"h":1.19135,"l":1.19078,"c":1.19122,"r":66},
{"i":453,"o":1.19122,"h":1.19140,"l":1.19110,"c":1.19129,"r":67.6},
{"i":454,"o":1.19129,"h":1.19158,"l":1.19100,"c":1.19111,"r":63},
{"i":455,"o":1.19111,"h":1.19120,"l":1.19020,"c":1.19031,"r":55},
{"i":456,"o":1.19031,"h":1.19040,"l":1.18921,"c":1.18983,"r":48.6},
{"i":457,"o":1.18983,"h":1.19012,"l":1.18970,"c":1.19001,"r":45},
{"i":458,"o":1.19001,"h":1.19010,"l":1.18960,"c":1.18976,"r":44},
{"i":459,"o":1.18976,"h":1.19031,"l":1.18965,"c":1.19020,"r":51.2},
{"i":460,"o":1.19020,"h":1.19040,"l":1.19005,"c":1.19023,"r":54},
{"i":461,"o":1.19023,"h":1.19205,"l":1.19010,"c":1.19195,"r":66},
{"i":462,"o":1.19195,"h":1.19286,"l":1.19185,"c":1.19257,"r":71},
{"i":463,"o":1.19257,"h":1.19265,"l":1.19205,"c":1.19216,"r":67},
{"i":464,"o":1.19216,"h":1.19228,"l":1.19158,"c":1.19190,"r":61.7}
],
"levels":[
{"p":1.19451,"k":"fib","lab":"78"},
{"p":1.19130,"k":"fib","lab":"61.8"},
{"p":1.18899,"k":"fib","lab":"50.0"},
{"p":1.18665,"k":"fib","lab":"38.2"},
{"p":1.18377,"k":"fib","lab":"23.6"},
{"p":1.17910,"k":"fib","lab":"0.0"},
{"p":1.19117,"k":"blue","lab":"0.0"},
{"p":1.19190,"k":"bid","lab":""}
],
"trend":[{"i":411,"p":1.18687},{"i":467.8,"p":1.18967}],
"diag":[{"i":-0.19,"p":1.19213},{"i":69.2,"p":1.17910}]
},
"vconcat":[
{
"width":1248,"height":446,
"layer":[
{"data":{"name":"levels"},"mark":{"type":"rule","strokeWidth":1,"clip":true},
 "encoding":{"y":{"field":"p","type":"quantitative","scale":{"domain":[1.17873,1.19505],"nice":false,"zero":false},
  "axis":{"orient":"right","title":null,"grid":false,"domain":false,"tickSize":3,"tickCount":30,"tickColor":"#333333","labelFontSize":7,"labelColor":"#000000","labelPadding":2,"labelBound":false,"labelFlush":false,"labelOverlap":false,"format":".5f",
  "values":[1.19420,1.19340,1.19260,1.19175,1.19095,1.19015,1.18935,1.18850,1.18770,1.18690,1.18610,1.18525,1.18445,1.18365,1.18285,1.18200,1.18120,1.18040,1.17960,1.17875]}},
 "color":{"field":"k","type":"nominal","scale":{"domain":["fib","blue","bid"],"range":["#f3a07c","#4a8fe0","#c6c6c6"]},"legend":null}}},
{"data":{"name":"diag"},"mark":{"type":"line","color":"#e3554b","strokeWidth":1,"strokeDash":[2,2],"strokeJoin":"round","clip":true},
 "encoding":{"x":{"field":"i","type":"quantitative","scale":{"domain":[-0.19,467.81],"nice":false,"zero":false},"axis":null},
 "y":{"field":"p","type":"quantitative","scale":{"domain":[1.17873,1.19505],"nice":false,"zero":false}}}},
{"data":{"name":"trend"},"mark":{"type":"line","color":"#e8463c","strokeWidth":1,"strokeJoin":"round","clip":true},
 "encoding":{"x":{"field":"i","type":"quantitative","scale":{"domain":[-0.19,467.81],"nice":false,"zero":false},"axis":null},
 "y":{"field":"p","type":"quantitative","scale":{"domain":[1.17873,1.19505],"nice":false,"zero":false}}}},
{"data":{"name":"bars"},"mark":{"type":"rule","strokeWidth":1,"clip":true},
 "encoding":{"x":{"field":"i","type":"quantitative","scale":{"domain":[-0.19,467.81],"nice":false,"zero":false},"axis":null},
 "y":{"field":"l","type":"quantitative","scale":{"domain":[1.17873,1.19505],"nice":false,"zero":false}},
 "y2":{"field":"h"},
 "color":{"condition":{"test":"datum.c >= datum.o","value":"#8c8c8c"},"value":"#4a1414"}}},
{"data":{"name":"bars"},"mark":{"type":"rule","strokeWidth":2,"strokeCap":"square","clip":true},
 "encoding":{"x":{"field":"i","type":"quantitative","scale":{"domain":[-0.19,467.81],"nice":false,"zero":false},"axis":null},
 "y":{"field":"o","type":"quantitative","scale":{"domain":[1.17873,1.19505],"nice":false,"zero":false}},
 "y2":{"field":"c"},
 "color":{"condition":{"test":"datum.c >= datum.o","value":"#2e8b30"},"value":"#650b0b"}}},
{"data":{"name":"levels"},"transform":[{"filter":"datum.k == 'fib'"}],
 "mark":{"type":"text","align":"right","baseline":"alphabetic","dy":-2.5,"fontSize":6.4,"color":"#ee8a5e"},
 "encoding":{"x":{"datum":467.3,"axis":null},"y":{"field":"p","type":"quantitative","scale":{"domain":[1.17873,1.19505],"nice":false,"zero":false}},
 "text":{"field":"lab"}}},
{"data":{"name":"levels"},"transform":[{"filter":"datum.k == 'blue'"}],
 "mark":{"type":"text","align":"right","baseline":"alphabetic","dy":-1,"fontSize":6.4,"color":"#6f7fd8"},
 "encoding":{"x":{"datum":467.3,"axis":null},"y":{"field":"p","type":"quantitative","scale":{"domain":[1.17873,1.19505],"nice":false,"zero":false}},
 "text":{"field":"lab"}}},
{"data":{"values":[{"t":"GBPUSD,M5  1.19216 1.19228 1.19158 1.19190"}]},
 "mark":{"type":"text","align":"left","baseline":"middle","fontSize":6.6,"color":"#000000"},
 "encoding":{"x":{"datum":3.9,"axis":null},"y":{"datum":1.19479},"text":{"field":"t"}}},
{"data":{"values":[{"t":"▼"}]},
 "mark":{"type":"text","align":"center","baseline":"middle","fontSize":5,"color":"#000000"},
 "encoding":{"x":{"datum":1.6,"axis":null},"y":{"datum":1.19480},"text":{"field":"t"}}},
{"data":{"values":[{"p":1.19190}]},
 "mark":{"type":"rect","color":"#000000"},
 "encoding":{"x":{"datum":468.1,"axis":null},"x2":{"datum":479.2},"y":{"datum":1.19207},"y2":{"datum":1.19173}}},
{"data":{"values":[{"p":1.19190,"t":"1.19190"}]},
 "mark":{"type":"text","align":"left","baseline":"middle","fontSize":7,"color":"#ffffff"},
 "encoding":{"x":{"datum":469.0,"axis":null},"y":{"field":"p","type":"quantitative"},"text":{"field":"t"}}}
]
},
{
"width":1248,"height":136,
"layer":[
{"data":{"values":[{"v":70},{"v":30}]},"mark":{"type":"rule","strokeDash":[2,2],"color":"#bdbdbd","strokeWidth":1,"clip":true},
 "encoding":{"y":{"field":"v","type":"quantitative","scale":{"domain":[-2.1,105.5],"nice":false,"zero":false},
 "axis":{"orient":"right","title":null,"grid":false,"domain":false,"tickSize":3,"tickCount":10,"tickColor":"#333333","labelFontSize":7,"labelColor":"#000000","labelPadding":2,"labelBound":false,"labelFlush":false,"labelOverlap":false,"values":[0,30,70,100],"format":"d"}}}},
{"data":{"values":[{"v":104.7}]},"mark":{"type":"rule","color":"#6a6a6a","strokeWidth":2,"clip":true},
 "encoding":{"y":{"field":"v","type":"quantitative","scale":{"domain":[-2.1,105.5],"nice":false,"zero":false}}}},
{"data":{"name":"bars"},"mark":{"type":"line","color":"#4b9be3","strokeWidth":1,"strokeJoin":"round","clip":true},
 "encoding":{"x":{"field":"i","type":"quantitative","scale":{"domain":[-0.19,467.81],"nice":false,"zero":false},
 "axis":{"orient":"bottom","title":null,"grid":false,"domain":false,"tickSize":5,"tickCount":40,"tickColor":"#333333","labelFontSize":6.3,"labelColor":"#000000","labelAlign":"left","labelBaseline":"top","labelPadding":1,"labelOffset":1,"labelBound":false,"labelFlush":false,"labelOverlap":false,
 "values":[0,16,32,48,64,80,96,112,128,144,160,176,192,208,224,240,256,272,288,304,320,336,352,368,384,400,416,432,448,464],
 "labelExpr":"['15 Nov 2022','15 Nov 20:20','15 Nov 21:40','15 Nov 23:00','16 Nov 00:20','16 Nov 01:40','16 Nov 03:00','16 Nov 04:20','16 Nov 05:40','16 Nov 07:00','16 Nov 08:20','16 Nov 09:40','16 Nov 11:00','16 Nov 12:20','16 Nov 13:40','16 Nov 15:00','16 Nov 16:20','16 Nov 17:40','16 Nov 19:00','16 Nov 20:20','16 Nov 21:40','16 Nov 23:00','17 Nov 00:30','17 Nov 01:50','17 Nov 03:10','17 Nov 04:30','17 Nov 05:50','17 Nov 07:10','17 Nov 08:30','17 Nov 09:50'][round(datum.value/16)]"}},
 "y":{"field":"r","type":"quantitative","scale":{"domain":[-2.1,105.5],"nice":false,"zero":false}}}},
{"data":{"values":[{"t":"RSI(14) 61.6988"}]},
 "mark":{"type":"text","align":"left","baseline":"middle","fontSize":6.6,"color":"#000000"},
 "encoding":{"x":{"datum":0.9},"y":{"datum":98.5},"text":{"field":"t"}}}
]
}
]
}
